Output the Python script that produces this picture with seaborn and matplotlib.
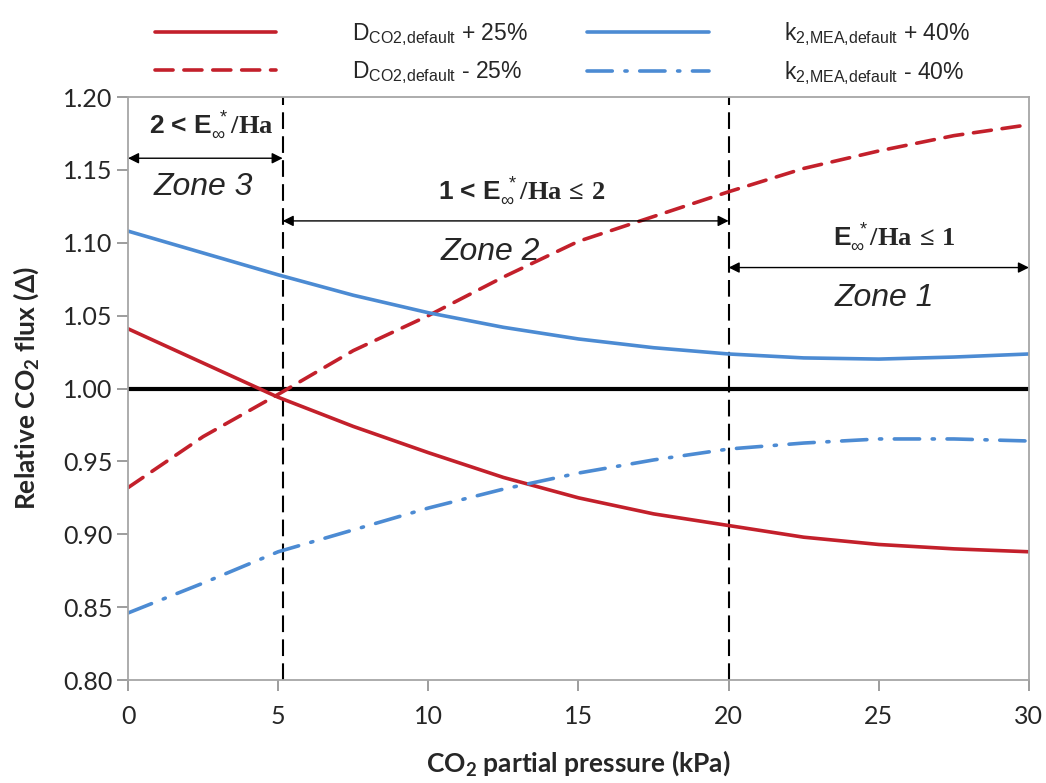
import numpy as np
import pandas as pd
import matplotlib
matplotlib.use("Agg")
import matplotlib.pyplot as plt
import seaborn as sns

# CO2 partial pressure grid (kPa)
pressure = [0, 2.5, 5, 7.5, 10, 12.5, 15, 17.5, 20, 22.5, 25, 27.5, 30]

# Relative CO2 flux for each parameter perturbation
d_plus25 = [1.041, 1.0175, 0.994, 0.974, 0.956, 0.939, 0.925, 0.914, 0.906, 0.898, 0.893, 0.890, 0.888]
d_minus25 = [0.932, 0.967, 0.996, 1.026, 1.050, 1.0765, 1.101, 1.118, 1.135, 1.151, 1.163, 1.1735, 1.181]
k_plus40 = [1.108, 1.093, 1.078, 1.064, 1.052, 1.042, 1.034, 1.028, 1.0237, 1.021, 1.0202, 1.0216, 1.0237]
k_minus40 = [0.846, 0.8665, 0.888, 0.903, 0.918, 0.931, 0.942, 0.951, 0.9585, 0.9626, 0.9654, 0.9654, 0.964]

series_labels = [
    r"D$_{\mathrm{CO2{,}default}}$ + 25%",
    r"D$_{\mathrm{CO2{,}default}}$ - 25%",
    r"k$_{\mathrm{2{,}MEA{,}default}}$ + 40%",
    r"k$_{\mathrm{2{,}MEA{,}default}}$ - 40%",
]
series_values = [d_plus25, d_minus25, k_plus40, k_minus40]

zone_bounds = [5.15, 20]
x_ticks = [0, 5, 10, 15, 20, 25, 30]
y_ticks = [0.80, 0.85, 0.90, 0.95, 1.00, 1.05, 1.10, 1.15, 1.20]

sns.set_style("ticks")
plt.rcParams["mathtext.fontset"] = "custom"
plt.rcParams["mathtext.rm"] = "Liberation Sans"
plt.rcParams["mathtext.it"] = "Liberation Sans:italic"
plt.rcParams["mathtext.bf"] = "Lato:bold"
plt.rcParams["mathtext.sf"] = "Liberation Serif:bold"

RED = "#C3202B"
BLUE = "#4C8BD3"
styles = [
    dict(color=RED, linestyle="-"),
    dict(color=RED, linestyle=(0, (5, 3))),
    dict(color=BLUE, linestyle="-"),
    dict(color=BLUE, linestyle=(0, (7, 3.5, 0.6, 3.5))),
]

fig = plt.figure(figsize=(10.46, 7.83), dpi=100)
ax = fig.add_axes([0.1224, 0.1315, 0.8613, 0.7446])

handles = []
for label, vals, st in zip(series_labels, series_values, styles):
    df = pd.DataFrame({"pressure": pressure, "flux": vals})
    sns.lineplot(data=df, x="pressure", y="flux", ax=ax, linewidth=2.6,
                 solid_capstyle="round", dash_capstyle="round", **st)
    handles.append(ax.get_lines()[-1])

ax.axhline(1.0, color="black", linewidth=3.0, zorder=1)
for xb in zone_bounds:
    ax.axvline(xb, color="black", linewidth=1.5, linestyle=(0, (8, 3.5)), zorder=1)

ax.set_xlim(0, 30)
ax.set_ylim(0.80, 1.20)
ax.set_xticks(x_ticks)
ax.set_yticks(y_ticks)
ax.set_yticklabels([f"{v:.2f}" for v in y_ticks])
ax.tick_params(axis="both", direction="out", length=8, width=1.2, color="#8C8C8C",
               labelsize=18, pad=3)
ax.tick_params(axis="x", pad=10)
for lab in ax.get_xticklabels() + ax.get_yticklabels():
    lab.set_fontfamily("Lato")
for sp in ax.spines.values():
    sp.set_color("#A6A6A6")
    sp.set_linewidth(1.3)

ax.set_xlabel(r"CO$_{\mathbf{2}}$ partial pressure (kPa)", fontsize=19, fontweight="bold",
              fontfamily=["Lato", "DejaVu Sans"], labelpad=15)
ax.set_ylabel(r"Relative CO$_{\mathbf{2}}$ flux (Δ)", fontsize=19, fontweight="bold",
              fontfamily=["Lato", "DejaVu Sans"], labelpad=16)

# Zone annotations
arrow_kw = dict(arrowstyle="<|-|>", color="black", lw=1.0, mutation_scale=16,
                shrinkA=0, shrinkB=0)
ax.annotate("", xy=(0, 1.158), xytext=(zone_bounds[0], 1.158), arrowprops=arrow_kw)
ax.annotate("", xy=(zone_bounds[0], 1.115), xytext=(zone_bounds[1], 1.115), arrowprops=arrow_kw)
ax.annotate("", xy=(zone_bounds[1], 1.083), xytext=(30, 1.083), arrowprops=arrow_kw)

zone_font = dict(fontsize=23, fontstyle="italic", fontfamily="Liberation Sans",
                 ha="center", va="center")
ax.text(2.5, 1.138, "Zone 3", **zone_font)
ax.text(12.05, 1.094, "Zone 2", **zone_font)
ax.text(25.2, 1.062, "Zone 1", **zone_font)

crit_font = dict(fontsize=19, fontweight="bold", fontfamily="Liberation Sans",
                 ha="center", va="center")
ax.text(2.76, 1.181, r"2 < E$_{\infty}^{\ *}\mathsf{/Ha}$", **crit_font)
ax.text(13.1, 1.136, r"1 < E$_{\infty}^{\ *}\mathsf{/Ha}\,\mathsf{\leq}\,\mathsf{2}$", **crit_font)
ax.text(25.5, 1.104, r"E$_{\infty}^{\ *}\mathsf{/Ha}\,\mathsf{\leq}\,\mathsf{1}$", **crit_font)

leg = fig.legend(handles, series_labels, ncol=2, loc="center left",
                 bbox_to_anchor=(0.128, 0.932), frameon=False,
                 prop={"family": "Liberation Sans", "size": 16.5},
                 handlelength=5.3, handletextpad=3.3, columnspacing=2.6,
                 labelspacing=0.5)

fig.savefig("out.png", dpi=100)
